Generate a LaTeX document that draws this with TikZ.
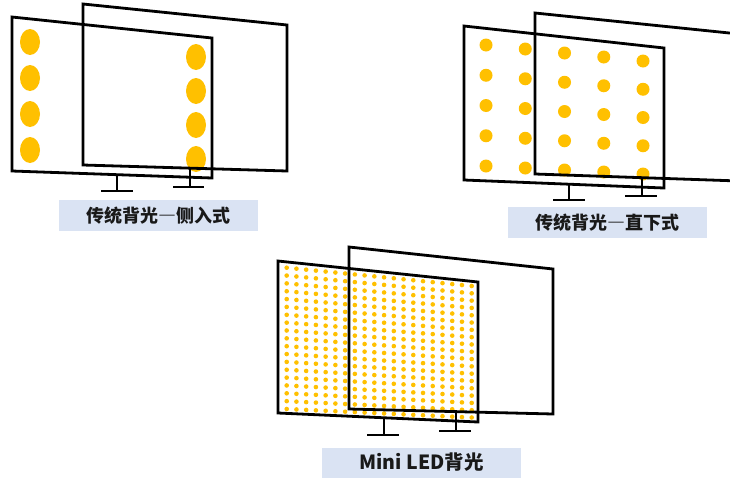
\documentclass[tikz,border=0pt]{standalone}
\usepackage{fontspec}
\newfontfamily\cjk{Noto Sans CJK SC}
\usepackage{xcolor}
\usepackage{tikz}
\usetikzlibrary{calc}
\definecolor{LedGold}{HTML}{FFC000}
\definecolor{CaptionBlue}{HTML}{DAE3F3}
\newcommand{\wdash}{{\addfontfeature{RawFeature=+fwid}—}}

\begin{document}
\begin{tikzpicture}[x=1pt,y=-1pt,
    frame/.style={line width=2.8pt, line join=miter},
    stand/.style={line width=2pt},
    caption/.style={fill=CaptionBlue, minimum width=199pt, minimum height=31pt, inner sep=0pt, text=black!90, font=\cjk\bfseries\fontsize{18}{18}\selectfont}]
  \useasboundingbox (0,0) rectangle (730,477);
  \clip (0,0) rectangle (730,477);

  % edge lit: two columns of big lamps
  \coordinate (el-tl) at (30,42);  \coordinate (el-tr) at (196,57);
  \coordinate (el-bl) at (30,150); \coordinate (el-br) at (196,159);
  \foreach \u in {0,1}
    \foreach \v in {0,...,3}
      \fill[LedGold] ($($(el-tl)!\u!(el-tr)$)!\v/3!($(el-bl)!\u!(el-br)$)$) ellipse [x radius=10, y radius=13];
  \draw[frame] (83,4) -- (287,25) -- (287,171) -- (83,165) -- cycle;
  \draw[frame] (12,17) -- (212,38) -- (212,178) -- (12,171) -- cycle;
  \draw[stand] (117,175) -- (117,191) (101,191) -- (133,191);
  \draw[stand] (190,168) -- (190,187) (173,187) -- (204,187);
  \node[caption] (edgelit) at (158,215.5) {传统背光\wdash 侧入式};

  % direct lit: 5 x 5 lamps
  \coordinate (dl-tl) at (486,45);  \coordinate (dl-tr) at (643,61);
  \coordinate (dl-bl) at (486,166); \coordinate (dl-br) at (643,174);
  \foreach \u in {0,...,4}
    \foreach \v in {0,...,4}
      \fill[LedGold] ($($(dl-tl)!\u/4!(dl-tr)$)!\v/4!($(dl-bl)!\u/4!(dl-br)$)$) circle [radius=6.5];
  \draw[frame] (535,13) -- (739,34) -- (739,181) -- (535,174) -- cycle;
  \draw[frame] (464,26) -- (664,48) -- (664,188) -- (464,180) -- cycle;
  \draw[stand] (569,184) -- (569,200) (553,200) -- (585,200);
  \draw[stand] (642,177) -- (642,196) (625,196) -- (657,196);
  \node[caption] (directlit) at (607.5,222.5) {传统背光\wdash 直下式};

  % mini led: 20 x 19 small lamps
  \coordinate (ml-tl) at (286.7,267.7); \coordinate (ml-tr) at (471.7,286);
  \coordinate (ml-bl) at (286.7,409);   \coordinate (ml-br) at (471.7,417.5);
  \foreach \u in {0,...,19}
    \foreach \v in {0,...,18}
      \fill[LedGold] ($($(ml-tl)!\u/19!(ml-tr)$)!\v/18!($(ml-bl)!\u/19!(ml-br)$)$) circle [radius=2.3];
  \draw[frame] (349,247) -- (553,269) -- (553,414) -- (349,409) -- cycle;
  \draw[frame] (278,261) -- (478,282) -- (478,422) -- (278,413) -- cycle;
  \draw[stand] (384,418) -- (384,435) (367,435) -- (399,435);
  \draw[stand] (456,412) -- (456,431) (439,431) -- (471,431);
  \node[caption, minimum height=30pt, font=\cjk\bfseries\fontsize{19.5}{19.5}\selectfont] (minilit) at (421.5,462.5) {Mini LED背光};
\end{tikzpicture}
\end{document}
